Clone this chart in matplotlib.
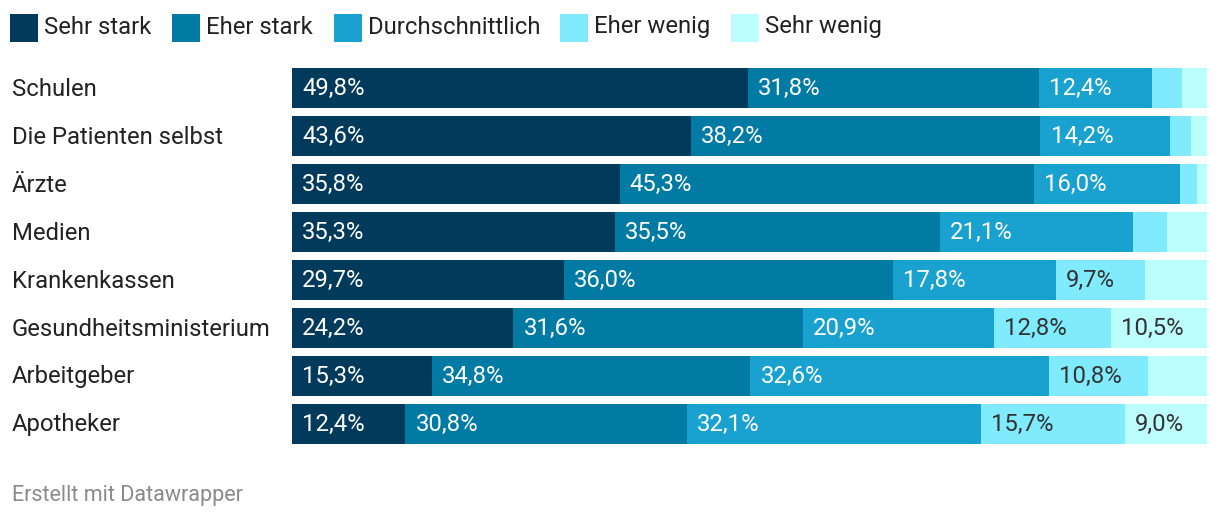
import matplotlib.pyplot as plt
from matplotlib.patches import Rectangle
import numpy as np

plt.rcParams['font.family'] = ['Roboto', 'DejaVu Sans']

# Daten
kategorien = ['Schulen', 'Die Patienten selbst', 'Ärzte', 'Medien', 'Krankenkassen',
              'Gesundheitsministerium', 'Arbeitgeber', 'Apotheker']
serien = ['Sehr stark', 'Eher stark', 'Durchschnittlich', 'Eher wenig', 'Sehr wenig']
sehr_stark = [49.8, 43.6, 35.8, 35.3, 29.7, 24.2, 15.3, 12.4]
eher_stark = [31.8, 38.2, 45.3, 35.5, 36.0, 31.6, 34.8, 30.8]
durchschnittlich = [12.4, 14.2, 16.0, 21.1, 17.8, 20.9, 32.6, 32.1]
eher_wenig = [3.3, 2.3, 1.8, 3.7, 9.7, 12.8, 10.8, 15.7]
sehr_wenig = [2.7, 1.7, 1.1, 4.4, 6.8, 10.5, 6.5, 9.0]

werte = [sehr_stark, eher_stark, durchschnittlich, eher_wenig, sehr_wenig]
farben = ['#023a5c', '#017aa4', '#19a2cf', '#80ebfd', '#bcfdfd']
textfarben = ['white', 'white', 'white', '#333333', '#333333']

W, H = 1220, 522
fs = 17.2
fig = plt.figure(figsize=(W / 100, H / 100), dpi=100)
ax = fig.add_axes([292 / W, 1 - 448 / H, 915 / W, 384 / H])

y = np.arange(len(kategorien))
links = np.zeros(len(kategorien))
for vals, farbe, tf in zip(werte, farben, textfarben):
    vals = np.array(vals)
    ax.barh(y, vals, left=links, height=40 / 48, color=farbe, linewidth=0)
    for yi, (l, v) in enumerate(zip(links, vals)):
        if v >= 9:
            ax.text(l + 1.1, yi, f"{v:.1f}".replace('.', ',') + '%', color=tf,
                    va='center', ha='left', fontsize=fs)
    links += vals

ax.set_xlim(0, 100)
ax.set_ylim(len(kategorien) - 0.5, -0.5)
ax.axis('off')

# Kategorien
for yi, k in enumerate(kategorien):
    fig.text(12 / W, 1 - (89 + 48 * yi) / H, k, fontsize=fs, color='#222222',
             va='center', ha='left')

# Legende
leg_x = [10, 172, 334, 560, 731]
for x, name, farbe in zip(leg_x, serien, farben):
    fig.add_artist(Rectangle((x / W, 1 - 42 / H), 28 / W, 28 / H,
                             transform=fig.transFigure, color=farbe, lw=0))
    fig.text((x + 34) / W, 1 - 27 / H, name, fontsize=fs, color='#222222',
             va='center', ha='left')

fig.text(12 / W, 1 - 496 / H, 'Erstellt mit Datawrapper', fontsize=15.5,
         color='#8a8a8a', va='center', ha='left')

fig.savefig('out.png', dpi=100, facecolor='white')
